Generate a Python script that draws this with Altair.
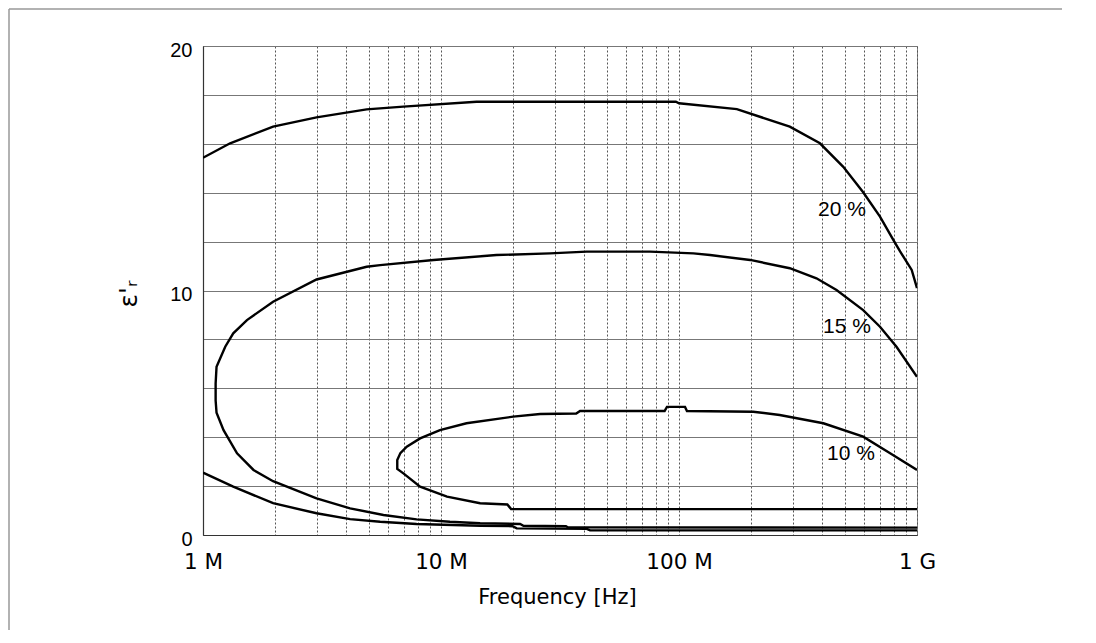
import altair as alt
import pandas as pd

# ---- data (frequency in MHz, relative permittivity eps'_r) ----
c20_upper_f = [1.0, 1.3, 1.97, 3.0, 4.87, 6.95, 14.1, 28.7, 97, 100, 175, 292, 391, 490, 594, 699, 795, 849, 950, 1000]
c20_upper_e = [15.43, 16.02, 16.70, 17.08, 17.41, 17.52, 17.72, 17.72, 17.72, 17.66, 17.42, 16.70, 16.02, 15.06, 14.02, 13.02, 12.07, 11.6, 10.84, 10.1]

c20_lower_f = [1.0, 1.34, 1.97, 3.0, 4.15, 5.55, 7.9, 14.6, 20.0, 20.8, 41, 42.3, 1000]
c20_lower_e = [2.55, 1.98, 1.30, 0.89, 0.65, 0.54, 0.45, 0.38, 0.36, 0.27, 0.25, 0.19, 0.19]

c15_f = [1000, 820, 699, 594, 459, 378, 292, 199, 135, 115, 75.5, 40.9, 28.7, 17.1, 9.3, 5.55, 4.87,
         3.0, 1.97, 1.53, 1.34, 1.24, 1.14, 1.13, 1.13, 1.14, 1.22, 1.39, 1.63, 1.97, 3.0, 4.15, 5.73,
         7.9, 10.9, 14.6, 21.5, 22.2, 33.5, 34.2, 1000]
c15_e = [6.47, 7.70, 8.52, 9.20, 10.02, 10.50, 10.91, 11.25, 11.45, 11.52, 11.59, 11.59, 11.52, 11.45, 11.25, 11.04, 10.97,
         10.45, 9.54, 8.79, 8.25, 7.70, 6.88, 6.2, 5.5, 5.0, 4.29, 3.34, 2.66, 2.2, 1.5, 1.09, 0.82,
         0.64, 0.54, 0.48, 0.45, 0.38, 0.36, 0.31, 0.30]

c10_f = [1000, 771, 594, 404, 265, 205, 108, 106, 89, 87, 38.4, 37, 26.1, 20.1, 12.8, 9.9, 8.17, 7.18, 6.75,
         6.55, 6.55, 6.95, 8.17, 10.6, 14.6, 19.0, 19.7, 1000]
c10_e = [2.66, 3.34, 4.02, 4.57, 4.91, 5.04, 5.07, 5.24, 5.24, 5.07, 5.07, 4.97, 4.95, 4.84, 4.57, 4.29, 3.95, 3.61, 3.35,
         3.07, 2.70, 2.52, 1.98, 1.57, 1.30, 1.25, 1.06, 1.06]

label_texts = ["20 %", "15 %", "10 %"]
label_f = [384, 403, 419]          # MHz (left edge of label)
label_e = [13.29, 8.49, 3.31]

x_label_values = [1e6, 1e7, 1e8, 1e9]
x_label_texts = ["1 M", "10 M", "100 M", "1 G"]
x_grid_values = [k * 10 ** d * 1e6 for d in range(3) for k in range(1, 10)] + [1e9]
y_grid_values = list(range(0, 21, 2))
y_label_values = [0, 10, 20]

# ---- build tables ----
rows = []
for name, fs, es in [("20u", c20_upper_f, c20_upper_e), ("20l", c20_lower_f, c20_lower_e),
                     ("15", c15_f, c15_e), ("10", c10_f, c10_e)]:
    for i, (f, e) in enumerate(zip(fs, es)):
        rows.append({"curve": name, "idx": i, "f": f * 1e6, "eps": e})
df = pd.DataFrame(rows)
lab = pd.DataFrame({"text": label_texts, "f": [v * 1e6 for v in label_f], "eps": label_e})

x_expr = " : ".join(f"datum.value == {int(v)} ? '{t}'" for v, t in zip(x_label_values, x_label_texts)) + " : ''"
y_expr = " : ".join(f"datum.value == {v} ? '{v}'" for v in y_label_values) + " : ''"

W, H = 714, 489
x_scale = alt.Scale(type="log", domain=[1e6, 1e9])
y_scale = alt.Scale(domain=[0, 20])

x_axis = alt.Axis(values=x_grid_values, labelExpr=x_expr, grid=True, gridDash=[2, 2], gridColor="#555",
                  gridWidth=1, ticks=False, tickSize=0, labelPadding=33, labelBaseline="alphabetic",
                  labelFont="DejaVu Sans", labelFontSize=21.5, labelColor="#000", labelFlush=False,
                  labelOverlap=False, domainColor="#333", domainWidth=1.2,
                  title="Frequency [Hz]", titleFont="DejaVu Sans", titleFontSize=21, titleFontWeight="normal",
                  titleColor="#000", titleY=68, titleBaseline="alphabetic", titleX=W / 2 - 3)
y_axis = alt.Axis(values=y_grid_values, labelExpr=y_expr, grid=True, gridColor="#777", gridWidth=1,
                  ticks=False, tickSize=0, labelPadding=11, labelBaseline="alphabetic", labelOffset=10,
                  labelFont="Liberation Sans", labelFontSize=20, labelColor="#000", labelOverlap=False,
                  labelFlush=False, domainColor="#333", domainWidth=1.2,
                  title="ε'ᵣ", titleFont="DejaVu Sans", titleFontSize=25, titleFontWeight="normal",
                  titleColor="#000", titleX=-75, titleY=H / 2 + 3, titleAlign="center", titleBaseline="middle")

lines = alt.Chart(df).mark_line(color="#000", strokeWidth=2.4, clip=True).encode(
    x=alt.X("f:Q", scale=x_scale, axis=x_axis),
    y=alt.Y("eps:Q", scale=y_scale, axis=y_axis),
    detail="curve:N",
    order="idx:Q",
)

labels = alt.Chart(lab).mark_text(align="left", baseline="middle", font="Liberation Sans", fontSize=21,
                                  color="#000").encode(
    x=alt.X("f:Q", scale=x_scale),
    y=alt.Y("eps:Q", scale=y_scale),
    text="text:N",
)

one = pd.DataFrame({"a": [0]})
frame_left = alt.Chart(one).mark_rule(stroke="#999", strokeWidth=1.5).encode(
    x=alt.value(-194), y=alt.value(-37), y2=alt.value(H + 200)
)
frame_top = alt.Chart(one).mark_rule(stroke="#999", strokeWidth=1.5).encode(
    x=alt.value(-194), x2=alt.value(W + 300), y=alt.value(-37)
)

chart = alt.layer(lines, labels, frame_left, frame_top).properties(
    width=W, height=H,
    autosize=alt.AutoSizeParams(type="none"),
    padding={"left": 195, "top": 38, "right": 145, "bottom": 95},
).configure_view(stroke="#888", strokeWidth=1)

chart.save("out.html", embed_options={"renderer": "svg", "actions": False})
